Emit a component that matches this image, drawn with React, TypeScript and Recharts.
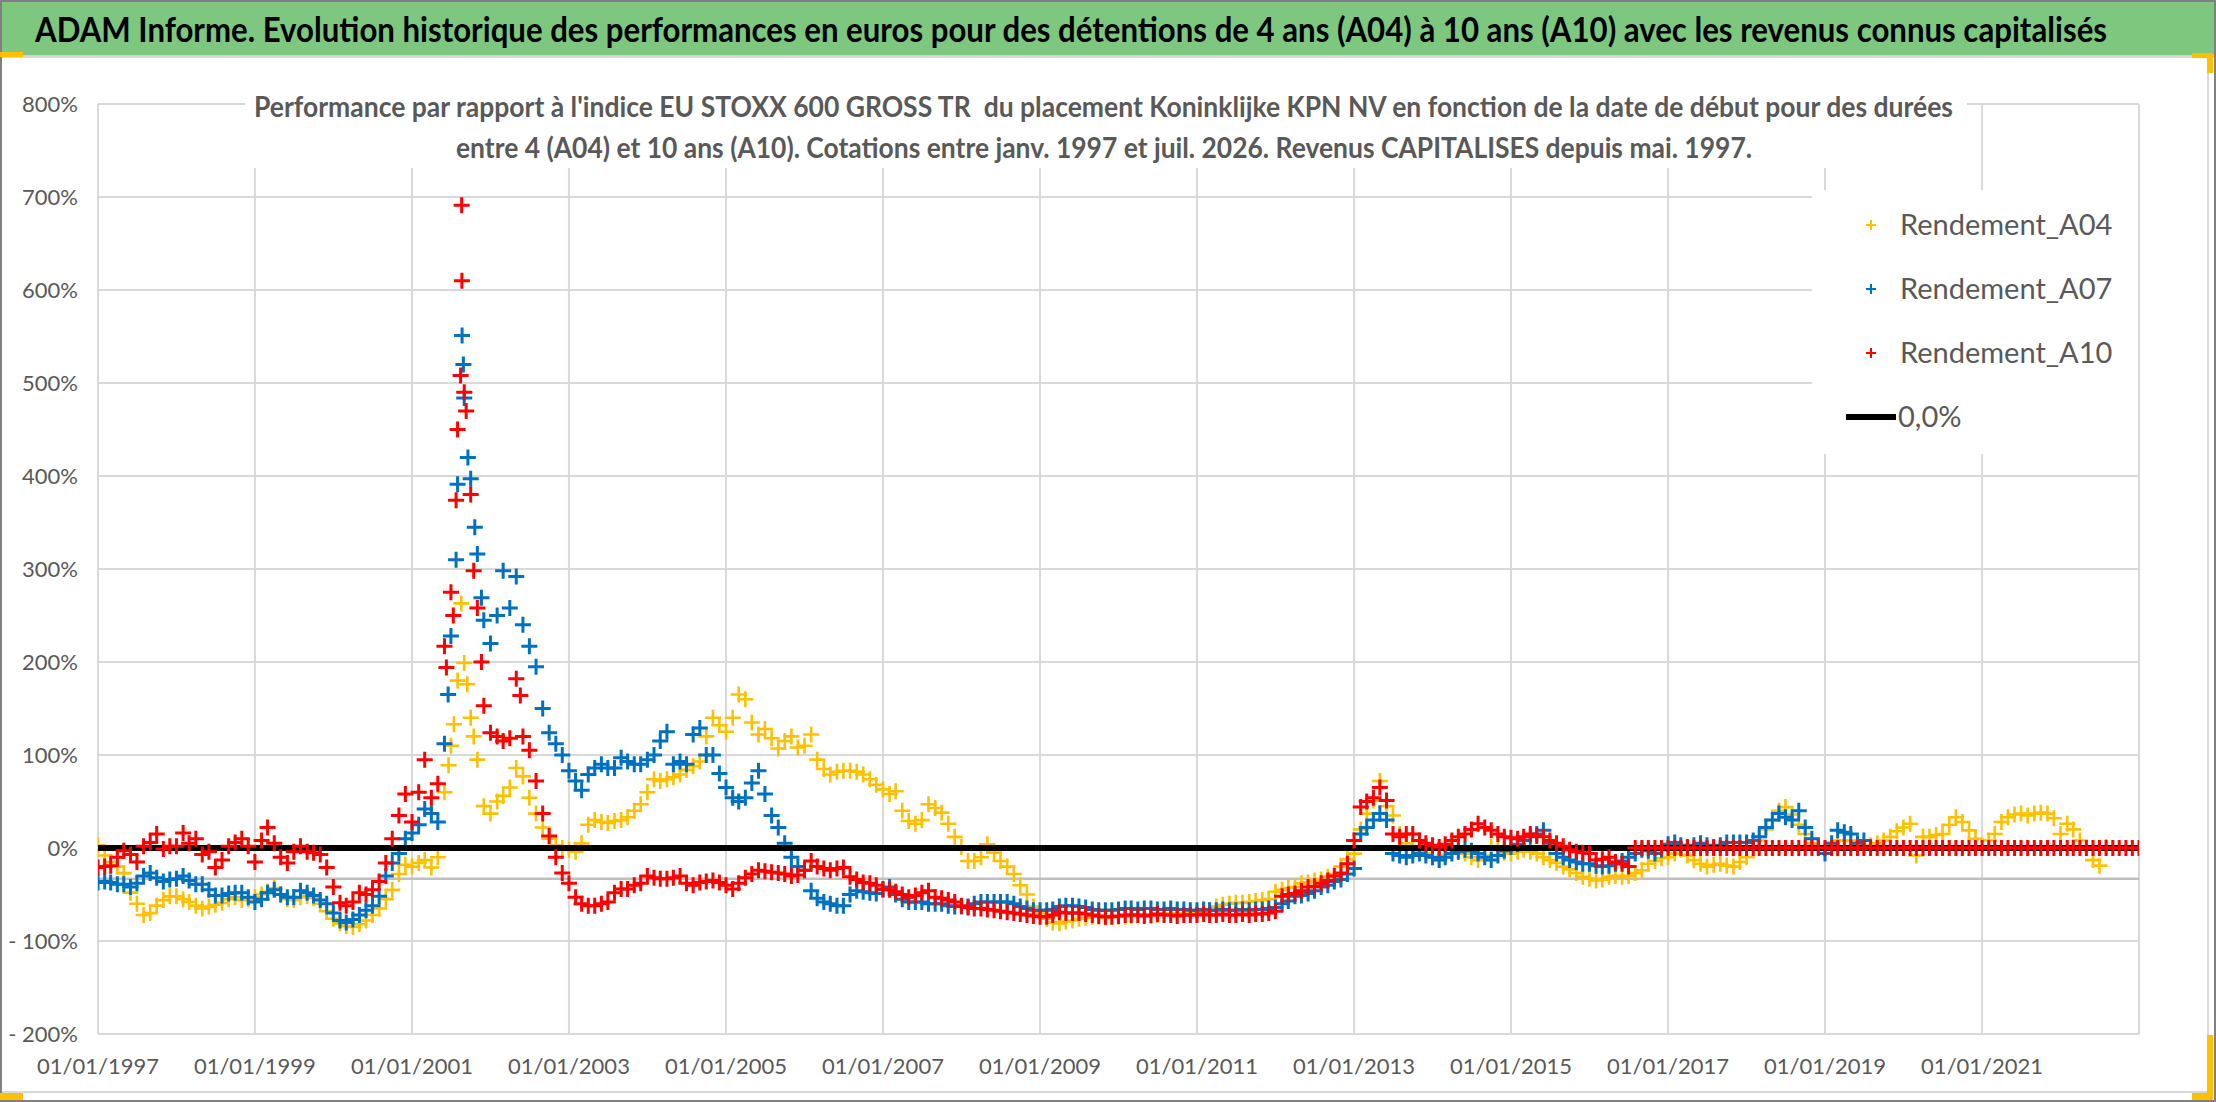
import React from "react";
import { ComposedChart, Scatter, XAxis, YAxis, CartesianGrid } from "recharts";

const W = 2216;
const H = 1102;

const FIRST_YEAR = 1997;
const X_DOMAIN_YEARS = [1997, 2023];
const X_TICK_YEARS = [1997, 1999, 2001, 2003, 2005, 2007, 2009, 2011, 2013, 2015, 2017, 2019, 2021];
const Y_TICKS = [-200, -100, 0, 100, 200, 300, 400, 500, 600, 700, 800];
const ZERO_LEVEL = 0;
const GUIDE_LEVEL = -33;

// monthly readings (%) from Jan 1997, one row per year
const A04 = [
  3, -8, -15, -20, -27, -48, -60, -72, -70, -62, -56, -52,
  -52, -55, -58, -62, -65, -63, -61, -59, -55, -53, -56, -55,
  -53, -50, -47, -43, -50, -55, -56, -53, -52, -54, -60, -68,
  -76, -81, -84, -85, -82, -78, -72, -65, -55, -45, -28, -18,
  -20, -16, -13, -21, -10, 60, 110, 180, 199, 140, 95, 45,
  37, 50, 56, 65, 86, 77, 54, 37, 22, 10, 3, 0,
  -2, -4, 5, 25, 30, 28, 27, 29, 30, 33, 40, 47,
  60, 74, 72, 74, 76, 79, 84, 88, 93, 120, 140, 132,
  125, 140, 165, 160, 135, 122, 128, 118, 107, 115, 120, 108,
  110, 122, 95, 85, 79, 82, 83, 83, 82, 79, 74, 68,
  63, 58, 61, 40, 29, 26, 30, 47, 43, 38, 26, 12,
  1, -14, -14, -10, 4, -5, -14, -20, -28, -40, -50, -63,
  -70, -76, -80, -81, -79, -78, -76, -75, -74, -74, -75, -74,
  -74, -74, -73, -72, -72, -73, -72, -71, -70, -71, -70, -70,
  -70, -69, -67, -63, -61, -60, -59, -59, -58, -57, -56, -55,
  -47, -45, -43, -42, -38, -37, -35, -34, -31, -28, -20, -12,
  -6, 20, 37, 51, 72, 45, 35, 15, 5, 1, -3, -6,
  -10, -13, -8, -2, -4, -6, -10, -13, -8, 1, -2, -5,
  -6, -4, -2, -4, -6, -10, -13, -16, -20, -23, -27, -31,
  -33, -35, -34, -31, -30, -31, -30, -27, -24, -17, -14, -11,
  -10, -6, -2, -8, -13, -17, -20, -18, -17, -19, -20, -15,
  -10, -2, 8, 20, 30, 40, 44, 36, 25, 15, 5, 1,
  -2, 3, 8, 8, 8, 4, 1, 3, 5, 8, 12, 18,
  22, 26, -8, 12, 12, 14, 15, 25, 33, 28, 19, 10,
  1, 8, 15, 28, 33, 36, 37, 35, 37, 38, 37, 32,
  15, 26, 20, 8, 0, -13, -19, 1,
];

const A07 = [
  -37, -36, -37, -39, -39, -42, -38, -30, -27, -32, -36, -34,
  -33, -30, -35, -39, -39, -45, -51, -51, -49, -48, -48, -53,
  -58, -55, -48, -45, -50, -53, -53, -46, -48, -51, -56, -60,
  -70, -78, -80, -77, -72, -67, -62, -52, -30, -16, -6, 10,
  16, 25, 42, 37, 28, 112, 228, 391, 484, 397, 316, 245,
  220, 250, 298, 258, 292, 240, 217, 195, 150, 124, 112, 100,
  83, 72, 62, 79, 86, 90, 86, 86, 97, 93, 90, 90,
  95, 100, 115, 125, 90, 93, 90, 122, 129, 100, 100, 80,
  65, 54, 50, 54, 70, 83, 58, 35, 22, 5, -10, -20,
  -24, -46, -54, -58, -60, -62, -62, -50, -46, -47, -48, -49,
  -45, -42, -50, -55, -58, -58, -58, -60, -60, -60, -62, -63,
  -63, -63, -60, -58, -58, -58, -58, -58, -60, -63, -65, -67,
  -67, -67, -66, -63, -62, -62, -63, -64, -66, -67, -67, -67,
  -66, -65, -65, -66, -65, -65, -66, -66, -65, -66, -66, -67,
  -67, -66, -67, -67, -66, -67, -67, -66, -67, -66, -66, -65,
  -64, -60, -57, -52, -51, -49, -46, -42, -40, -36, -34, -28,
  -22, 15, 22, 30, 37, 30, -6, -8, -10, -8, -6, -8,
  -10, -13, -10, -6, -4, -2, -3, -6, -10, -13, -8, -3,
  1, 4, 8, 12, 15, 19, 5, -6, -10, -13, -15, -17,
  -17, -19, -20, -19, -17, -14, -10, -6, -2, -3, -6, -2,
  4, 6, 3, 1, 3, 5, 3, 1, 3, 6, 6, 6,
  6, 8, 12, 22, 30, 37, 33, 30, 40, 22, 10, 1,
  -6, 5, 19, 17, 15, 5, 8,
];

const A10 = [
  -21, -20, -19, -10, -3, -7, -15, 2, 6, 15, -1, 2,
  2, 16, 5, 10, -7, -4, -21, -13, 2, 6, 10, 2,
  -15, 8, 22, 5, -10, -16, -4, 2, -4, -5, -7, -21,
  -42, -59, -62, -58, -48, -50, -45, -36, -16, 10, 35, 58,
  28, 60, 95, 54, 69, 217, 275, 450, 490, 380, 258, 153,
  124, 120, 115, 118, 182, 120, 105, 72, 37, 13, -10, -27,
  -38, -53, -60, -62, -62, -60, -58, -48, -44, -44, -40, -38,
  -30, -32, -33, -33, -32, -30, -38, -40, -37, -36, -35, -37,
  -40, -44, -38, -32, -28, -24, -25, -26, -27, -28, -30, -29,
  -24, -14, -20, -22, -24, -22, -21, -31, -34, -37, -38, -40,
  -44, -45, -47, -50, -53, -51, -48, -46, -53, -54, -56, -58,
  -62, -64, -65, -65, -66, -67, -68, -69, -70, -71, -72, -73,
  -74, -74, -72, -69, -70, -70, -70, -71, -72, -73, -74, -74,
  -73, -72, -72, -72, -73, -72, -71, -72, -72, -73, -72, -72,
  -72, -71, -72, -72, -71, -72, -72, -71, -72, -71, -71, -70,
  -68, -52, -50, -49, -46, -42, -41, -38, -35, -30, -27, -17,
  8, 44, 50, 54, 65, 51, 15, 12, 15, 15, 8, 5,
  3, 1, 4, 8, 12, 15, 20, 26, 22, 19, 15, 12,
  11, 10, 12, 15, 13, 12, 8, 5, 2, -2, -4, -5,
  -6, -13, -12, -10, -15, -17, -20, 0, 0, 0, 0, 0,
  0, 0, 0, 0, 0, 0, 0, 0, 0, 0, 0, 0,
  0, 0, 0, 0, 0, 0, 0, 0, 0, 0, 0, 0,
  0, 0, 0, 0, 0, 0, 0, 0, 0, 0, 0, 0,
  0, 0, 0, 0, 0, 0, 0, 0, 0, 0, 0, 0,
  0, 0, 0, 0, 0, 0, 0, 0, 0, 0, 0, 0,
  0, 0, 0, 0, 0, 0, 0, 0, 0, 0, 0, 0,
  0,
];

// extra readings inside the 2001-2002 spike, where the cloud is sparse
const A04_SPIKE: [string, number][] = [
  ["2001-06-20", 89], ["2001-07-15", 133], ["2001-08-18", 263],
  ["2001-09-15", 176], ["2001-10-15", 120],
];
const A07_SPIKE: [string, number][] = [
  ["2001-06-18", 165], ["2001-07-25", 310], ["2001-08-22", 551],
  ["2001-08-28", 520], ["2001-09-18", 420], ["2001-10-20", 345], ["2001-11-20", 269],
];
const A10_SPIKE: [string, number][] = [
  ["2001-06-10", 194], ["2001-07-12", 250], ["2001-07-25", 374], ["2001-08-15", 508],
  ["2001-08-20", 691], ["2001-08-21", 610], ["2001-09-10", 470], ["2001-10-15", 298],
  ["2001-11-20", 200], ["2002-05-20", 164],
];

const YELLOW = "#FFC000";
const BLUE = "#0070C0";
const RED = "#FF0000";
const TEXT = "#595959";
const GRID = "#D9D9D9";
const FONT = "Lato, 'Open Sans', sans-serif";

const utc = (s: string) => {
  const [y, m, d] = s.split("-").map(Number);
  return Date.UTC(y, m - 1, d);
};
const monthly = (vals: number[]) => vals.map((v, i) => ({ t: Date.UTC(FIRST_YEAR, i, 1), v }));
const extra = (pts: [string, number][]) => pts.map(([d, v]) => ({ t: utc(d), v }));

const a04Data = [...monthly(A04), ...extra(A04_SPIKE)];
const a07Data = [...monthly(A07), ...extra(A07_SPIKE)];
const a10Data = [...monthly(A10), ...extra(A10_SPIKE)];
const zeroData = X_DOMAIN_YEARS.map((y) => ({ t: Date.UTC(y, 0, 1), v: ZERO_LEVEL }));
const guideData = X_DOMAIN_YEARS.map((y) => ({ t: Date.UTC(y, 0, 1), v: GUIDE_LEVEL }));

const plus = (color: string, r = 8, sw = 3) => (props: any) => {
  const { cx, cy } = props;
  if (cx == null || cy == null) return <g />;
  return (
    <path
      d={`M${cx - r} ${cy}H${cx + r}M${cx} ${cy - r}V${cy + r}`}
      stroke={color}
      strokeWidth={sw}
      fill="none"
    />
  );
};
const noDot = () => <g />;

const fmtPct = (v: number) => (v < 0 ? `- ${Math.abs(v)}%` : `${v}%`);
const fmtDate = (t: number) => `01/01/${new Date(t).getUTCFullYear()}`;

const TITLE =
  "ADAM Informe. Evolution historique des performances en euros pour des détentions de 4 ans (A04) à 10 ans (A10) avec les revenus connus capitalisés";
const SUB1 =
  "Performance par rapport à l'indice EU STOXX 600 GROSS TR  du placement Koninklijke KPN NV en fonction de la date de début pour des durées";
const SUB2 =
  "entre 4 (A04) et 10 ans (A10). Cotations entre janv. 1997 et juil. 2026. Revenus CAPITALISES depuis mai. 1997.";

const LEGEND = [
  { name: "Rendement_A04", color: YELLOW },
  { name: "Rendement_A07", color: BLUE },
  { name: "Rendement_A10", color: RED },
];

function Overlay() {
  return (
    <svg
      width={W}
      height={H}
      style={{ position: "absolute", left: 0, top: 0, pointerEvents: "none" }}
    >
      {/* title bar */}
      <rect x={0} y={0} width={W} height={55} fill="#7DC87E" />
      <line x1={0} y1={56} x2={W} y2={56} stroke="#D0D0D0" strokeWidth={2} />
      <g transform="translate(35 42) scale(1 1.2)">
        <text
          x={0}
          y={0}
          textLength={2072}
          lengthAdjust="spacingAndGlyphs"
          fontFamily={FONT}
          fontWeight={700}
          fontSize={29}
          fill="#000"
        >
          {TITLE}
        </text>
      </g>

      {/* chart frame */}
      <rect x={1} y={57} width={2207} height={1035} fill="none" stroke="#D9D9D9" strokeWidth={2} />
      <rect x={1} y={1} width={W - 2} height={H - 2} fill="none" stroke="#808080" strokeWidth={2} />

      {/* subtitle */}
      <rect x={245} y={76} width={1722} height={92} fill="#fff" />
      <text
        x={254}
        y={117}
        textLength={1699}
        lengthAdjust="spacingAndGlyphs"
        fontFamily={FONT}
        fontWeight={700}
        fontSize={28}
        fill={TEXT}
        style={{ whiteSpace: "pre" }}
      >
        {SUB1}
      </text>
      <text
        x={456}
        y={158}
        textLength={1296}
        lengthAdjust="spacingAndGlyphs"
        fontFamily={FONT}
        fontWeight={700}
        fontSize={28}
        fill={TEXT}
      >
        {SUB2}
      </text>

      {/* legend */}
      <rect x={1812} y={190} width={326} height={264} fill="#fff" />
      {LEGEND.map((item, i) => {
        const cy = 225 + i * 64;
        return (
          <g key={item.name}>
            <path
              d={`M${1866} ${cy}H${1876}M${1871} ${cy - 5}V${cy + 5}`}
              stroke={item.color}
              strokeWidth={2}
            />
            <text x={1900} y={cy + 10} fontFamily={FONT} fontSize={29} fill={TEXT}>
              {item.name}
            </text>
          </g>
        );
      })}
      <line x1={1846} y1={417} x2={1896} y2={417} stroke="#000" strokeWidth={6} />
      <text x={1898} y={427} fontFamily={FONT} fontSize={29} fill={TEXT}>
        0,0%
      </text>

      {/* selection handles */}
      <rect x={0} y={52} width={23} height={5} fill={YELLOW} />
      <rect x={0} y={1093} width={23} height={7} fill={YELLOW} />
      <rect x={2192} y={53} width={21} height={5} fill={YELLOW} />
      <rect x={2207} y={53} width={6} height={20} fill={YELLOW} />
      <rect x={2207} y={1035} width={6} height={65} fill={YELLOW} />
      <rect x={2192} y={1093} width={21} height={7} fill={YELLOW} />
    </svg>
  );
}

export default function App() {
  const tickStyle = { fill: TEXT, fontSize: 22, fontFamily: FONT };
  return (
    <div
      style={{
        position: "absolute",
        left: 0,
        top: 0,
        width: W,
        height: H,
        background: "#fff",
        overflow: "hidden",
      }}
    >
      <ComposedChart
        width={W}
        height={H}
        margin={{ top: 104, right: 77, bottom: 18, left: 18 }}
        style={{ position: "absolute", left: 0, top: 0 }}
      >
        <CartesianGrid stroke={GRID} strokeWidth={2} />
        <XAxis
          type="number"
          dataKey="t"
          domain={[Date.UTC(X_DOMAIN_YEARS[0], 0, 1), Date.UTC(X_DOMAIN_YEARS[1], 0, 1)]}
          ticks={X_TICK_YEARS.map((y) => Date.UTC(y, 0, 1))}
          tickFormatter={fmtDate}
          interval={0}
          axisLine={false}
          tickLine={false}
          tickSize={0}
          tickMargin={24}
          height={50}
          tick={tickStyle}
          allowDataOverflow
        />
        <YAxis
          type="number"
          dataKey="v"
          domain={[-200, 800]}
          ticks={Y_TICKS}
          tickFormatter={fmtPct}
          interval={0}
          axisLine={false}
          tickLine={false}
          tickSize={0}
          tickMargin={20}
          width={80}
          tick={tickStyle}
          allowDataOverflow
        />
        <Scatter
          data={guideData}
          line={{ stroke: "#BFBFBF", strokeWidth: 2.5 }}
          shape={noDot}
          isAnimationActive={false}
        />
        <Scatter data={a04Data} shape={plus(YELLOW, 8, 2.6)} isAnimationActive={false} />
        <Scatter data={a07Data} shape={plus(BLUE)} isAnimationActive={false} />
        <Scatter
          data={zeroData}
          line={{ stroke: "#000", strokeWidth: 6 }}
          shape={noDot}
          isAnimationActive={false}
        />
        <Scatter data={a10Data} shape={plus(RED)} isAnimationActive={false} />
      </ComposedChart>
      <Overlay />
    </div>
  );
}
